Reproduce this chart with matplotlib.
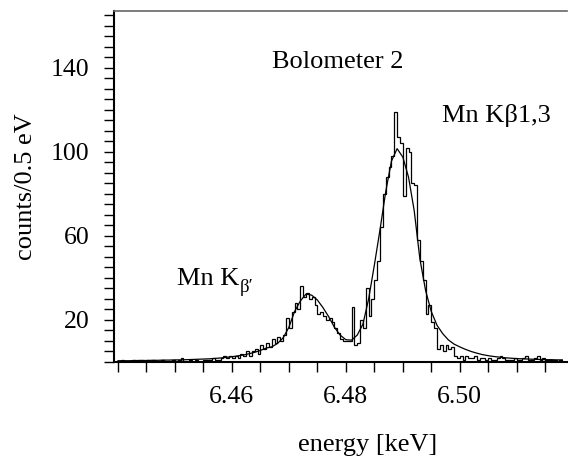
import numpy as np
import matplotlib
matplotlib.use("Agg")
import matplotlib.pyplot as plt
from matplotlib.ticker import MultipleLocator, FixedLocator, FixedFormatter

# ---------------- data ----------------
bin_start = 6.4395      # keV, first bin edge
bin_width = 0.0005      # keV (0.5 eV)
counts = [
    0, 0, 1, 0, 0, 0, 1, 0, 1, 1,      # 0-9
    0, 1, 0, 1, 0, 0, 1, 0, 0, 0,      # 10-19
    1, 0, 1, 2, 0, 0, 1, 0, 1, 0,      # 20-29
    0, 1, 1, 1, 2, 1, 1, 2, 3, 2,      # 30-39
    3, 2, 3, 2, 4, 3, 5, 3, 5, 6,      # 40-49
    4, 8, 6, 9, 7, 11, 9, 12, 10, 13,  # 50-59
    21, 16, 24, 28, 25, 36, 31, 33, 30, 31,  # 60-69
    27, 23, 24, 22, 20, 21, 19, 16, 14, 11,  # 70-79
    10, 10, 10, 26, 8, 9, 20, 16, 35, 22,    # 80-89
    30, 39, 48, 64, 80, 88, 93, 98, 119, 107,  # 90-99
    104, 79, 102, 100, 85, 84, 58, 48, 39, 23,  # 100-109
    27, 19, 16, 6, 8, 5, 8, 6, 7, 3,    # 110-119
    2, 3, 1, 3, 2, 2, 3, 1, 2, 2,      # 120-129
    1, 2, 1, 1, 2, 3, 2, 1, 1, 1,      # 130-139
    2, 1, 1, 2, 3, 1, 1, 2, 3, 1,      # 140-149
    2, 1, 1, 1, 1, 0, 1,               # 150-156
]

fit_energy = [round(6.440 + 0.001 * i, 3) for i in range(79)]
fit_counts = [
    0.6, 0.6, 0.6, 0.7, 0.7, 0.7, 0.8, 0.8, 0.9, 0.9,      # 6.440-6.449
    1.0, 1.0, 1.1, 1.2, 1.3, 1.4, 1.5, 1.7, 1.9, 2.2,      # 6.450-6.459
    2.5, 2.9, 3.3, 3.9, 4.6, 5.5, 6.6, 7.2, 8.8, 11.5,     # 6.460-6.469
    16.5, 24.0, 29.0, 32.3, 31.8, 29.5, 25.8, 21.5, 16.5, 12.8,  # 6.470-6.479
    10.6, 10.4, 12.8, 18.0, 30.0, 46.0, 63.0, 81.0, 95.5, 101.5,  # 6.480-6.489
    97.5, 88.0, 72.0, 49.0, 34.0, 24.0, 17.5, 13.5, 10.5, 8.5,    # 6.490-6.499
    7.2, 6.0, 5.0, 4.2, 3.5, 3.0, 2.6, 2.3, 2.0, 1.8,     # 6.500-6.509
    1.6, 1.5, 1.4, 1.3, 1.2, 1.1, 1.1, 1.0, 1.0,          # 6.510-6.518
]

x_ticklabels = ["6.46", "6.48", "6.50"]
y_ticklabels = ["20", "60", "100", "140"]

# ---------------- figure ----------------
plt.rcParams['font.family'] = ['Liberation Serif', 'DejaVu Serif']
plt.rcParams['mathtext.fontset'] = 'stix'

fig = plt.figure(figsize=(5.68, 4.57), dpi=100)
ax = fig.add_axes([0.2007, 0.2079, 0.7973, 0.7681])

edges = bin_start + bin_width * np.arange(len(counts) + 1)
ax.stairs(counts, edges, color='black', lw=0.9, baseline=0)
ax.plot(fit_energy, fit_counts, color='black', lw=0.9)

ax.set_xlim(6.4393, 6.5188)
ax.set_ylim(0, 167)

fs_tick = 18.5
fs = 19
ax.xaxis.set_major_locator(FixedLocator([float(t) for t in x_ticklabels]))
ax.xaxis.set_major_formatter(FixedFormatter(x_ticklabels))
ax.xaxis.set_minor_locator(MultipleLocator(0.005))
ax.yaxis.set_major_locator(FixedLocator([float(t) for t in y_ticklabels]))
ax.yaxis.set_major_formatter(FixedFormatter(y_ticklabels))
ax.yaxis.set_minor_locator(MultipleLocator(5))

ax.tick_params(axis='both', which='both', direction='out', length=7.5, width=1.0,
               color='black')
ax.tick_params(axis='x', which='major', labelsize=fs_tick, pad=10)
ax.tick_params(axis='y', which='major', labelsize=fs_tick, pad=10)

for s in ['left', 'bottom']:
    ax.spines[s].set_linewidth(1.5)
    ax.spines[s].set_color('black')
ax.spines['top'].set_linewidth(1.2)
ax.spines['top'].set_color('#666666')
ax.spines['right'].set_visible(False)

ax.set_xlabel('energy [keV]', fontsize=fs)
ax.xaxis.set_label_coords(0.561, -0.205)
ax.xaxis.label.set_va('top')
ax.set_ylabel('counts/0.5 eV', fontsize=fs)
ax.yaxis.set_label_coords(-0.17, 0.50)

ax.text(6.4786, 140, 'Bolometer 2', fontsize=fs, ha='center', va='baseline')
ax.text(6.4969, 114.4, 'Mn Kβ1,3', fontsize=fs, ha='left', va='baseline')
t1 = ax.text(6.4503, 36.7, 'Mn K', fontsize=fs, ha='left', va='baseline')
ax.annotate('β′', xy=(1, 0), xycoords=t1, xytext=(0.5, -1.5),
            textcoords='offset points', fontsize=13.5, ha='left', va='baseline')

fig.savefig('out.png', dpi=100)
